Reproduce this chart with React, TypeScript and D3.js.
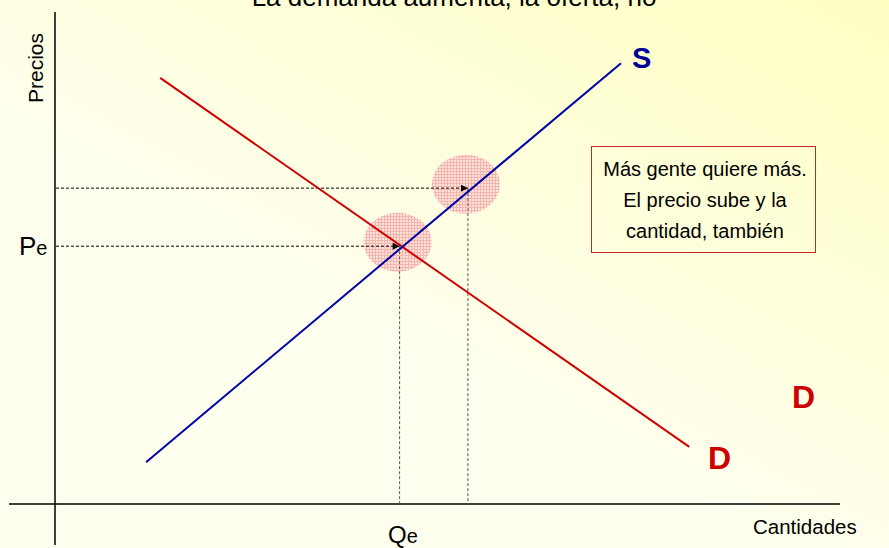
import React from "react";
import * as d3 from "d3";

// values (quantity / price units, 0-100)
const quantityDomain = [0, 100];
const priceDomain = [0, 100];
const supplyQ = [11.6, 72.1];
const supplyP = [8.5, 89.6];
const demandQ = [13.4, 80.8];
const demandP = [86.6, 11.6];
const equilibriumQ = [43.9, 52.6];
const equilibriumP = [52.4, 64.2];
const titleText = "La demanda aumenta, la oferta, no";
const boxLines = ["Más gente quiere más.", "El precio sube y la", "cantidad, también"];

const W = 889;
const H = 548;
const font = "Arial, 'Liberation Sans', sans-serif";

export default function App() {
  const x = d3.scaleLinear().domain(quantityDomain).range([55, 840]);
  const y = d3.scaleLinear().domain(priceDomain).range([504, 12]);

  const line = d3
    .line<[number, number]>()
    .x((d) => x(d[0]))
    .y((d) => y(d[1]));

  const supply = d3.zip(supplyQ, supplyP) as [number, number][];
  const demand = d3.zip(demandQ, demandP) as [number, number][];
  const points = d3.zip(equilibriumQ, equilibriumP) as [number, number][];

  return (
    <svg
      width={W}
      height={H}
      style={{ position: "absolute", left: 0, top: 0, display: "block" }}
    >
      <defs>
        <linearGradient id="bg" x1="0.15" y1="1" x2="1" y2="0">
          <stop offset="0.35" stopColor="#fffff0" />
          <stop offset="1" stopColor="#ffffc2" />
        </linearGradient>
        <pattern id="dots" width="3" height="3" patternUnits="userSpaceOnUse">
          <rect width="3" height="3" fill="#fde3d8" />
          <rect width="3" height="1" fill="#f5b4ae" />
          <rect width="1" height="3" fill="#f5b4ae" />
        </pattern>
        <marker
          id="arrow"
          viewBox="0 0 10 10"
          refX="10"
          refY="5"
          markerWidth="8"
          markerHeight="7"
          markerUnits="userSpaceOnUse"
          orient="auto"
        >
          <path d="M0,0 L10,5 L0,10 Z" fill="#000" />
        </marker>
      </defs>
      <rect width={W} height={H} fill="url(#bg)" />

      <text
        x={454}
        y={6}
        textAnchor="middle"
        fontFamily={font}
        fontSize={26}
        fill="#000"
      >
        {titleText}
      </text>

      {/* highlighted equilibria */}
      {points.map((d, i) => (
        <ellipse
          key={"c" + i}
          cx={x(d[0]) - 2}
          cy={y(d[1]) - 4}
          rx={34}
          ry={29.5}
          fill="url(#dots)"
        />
      ))}

      {/* axes */}
      <line x1={x(0)} x2={x(0)} y1={y(100)} y2={545} stroke="#000" strokeWidth={1.5} />
      <line x1={9} x2={x(100)} y1={y(0)} y2={y(0)} stroke="#000" strokeWidth={1.5} />

      {/* guide lines */}
      {points.map((d, i) => (
        <g key={"g" + i}>
          <line
            x1={x(0) + 1}
            x2={x(d[0])}
            y1={y(d[1])}
            y2={y(d[1])}
            stroke="#000"
            strokeWidth={1}
            strokeDasharray="3,2"
            markerEnd="url(#arrow)"
          />
          <line
            x1={x(d[0])}
            x2={x(d[0])}
            y1={y(d[1])}
            y2={y(0)}
            stroke="#555"
            strokeWidth={1}
            strokeDasharray="3,2"
          />
        </g>
      ))}

      <path d={line(demand) ?? ""} fill="none" stroke="#d00000" strokeWidth={2} />
      <path d={line(supply) ?? ""} fill="none" stroke="#0000a8" strokeWidth={2} />

      <text x={632} y={68} fontFamily={font} fontSize={29} fontWeight="bold" fill="#000099">
        S
      </text>
      <text x={708} y={469} fontFamily={font} fontSize={32} fontWeight="bold" fill="#cc0000">
        D
      </text>
      <text x={792} y={408} fontFamily={font} fontSize={32} fontWeight="bold" fill="#cc0000">
        D
      </text>

      <text x={19} y={255} fontFamily={font} fontSize={26} fill="#000">
        P<tspan fontSize={20}>e</tspan>
      </text>
      <text x={388} y={543} fontFamily={font} fontSize={24} fill="#000">
        Q<tspan fontSize={20}>e</tspan>
      </text>
      <text x={753} y={534} fontFamily={font} fontSize={20.5} fill="#000">
        Cantidades
      </text>
      <text
        transform="translate(43,68) rotate(-90)"
        textAnchor="middle"
        fontFamily={font}
        fontSize={21}
        fill="#000"
      >
        Precios
      </text>

      <rect x={591.5} y={146.5} width={224} height={106} fill="none" stroke="#c62828" strokeWidth={1} />
      {boxLines.map((t, i) => (
        <text
          key={t}
          x={705}
          y={176 + i * 31}
          textAnchor="middle"
          fontFamily={font}
          fontSize={20}
          fill="#000"
        >
          {t}
        </text>
      ))}
    </svg>
  );
}
